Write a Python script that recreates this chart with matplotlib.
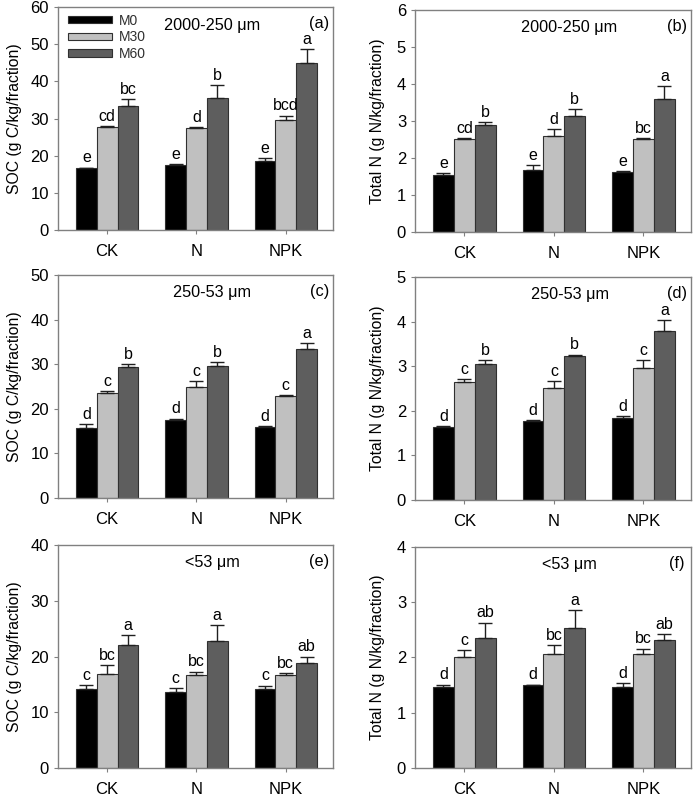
import numpy as np
import matplotlib.pyplot as plt
from matplotlib.patches import Patch

plt.rcParams['font.family'] = ['Liberation Sans', 'DejaVu Sans']

groups = ['CK', 'N', 'NPK']
series = ['M0', 'M30', 'M60']
colors = ['#000000', '#c0c0c0', '#5e5e5e']

# means per panel: rows = M0, M30, M60 ; cols = CK, N, NPK
soc_2000 = [[16.6, 17.6, 18.6], [27.8, 27.6, 29.7], [33.5, 35.6, 45.1]]
soc_2000_err = [[0.2, 0.2, 0.7], [0.2, 0.2, 1.1], [1.8, 3.4, 3.6]]
soc_2000_let = [['e', 'e', 'e'], ['cd', 'd', 'bcd'], ['bc', 'b', 'a']]

tn_2000 = [[1.53, 1.68, 1.62], [2.51, 2.60, 2.51], [2.90, 3.14, 3.59]]
tn_2000_err = [[0.06, 0.13, 0.03], [0.03, 0.19, 0.03], [0.06, 0.18, 0.36]]
tn_2000_let = [['e', 'e', 'e'], ['cd', 'd', 'bc'], ['b', 'b', 'a']]

soc_250 = [[15.7, 17.4, 15.9], [23.65, 24.9, 22.9], [29.4, 29.7, 33.5]]
soc_250_err = [[0.8, 0.4, 0.2], [0.3, 1.4, 0.1], [0.6, 0.7, 1.3]]
soc_250_let = [['d', 'd', 'd'], ['c', 'c', 'c'], ['b', 'b', 'a']]

tn_250 = [[1.63, 1.77, 1.84], [2.65, 2.52, 2.95], [3.04, 3.22, 3.79]]
tn_250_err = [[0.02, 0.02, 0.05], [0.07, 0.14, 0.18], [0.09, 0.04, 0.25]]
tn_250_let = [['d', 'd', 'd'], ['c', 'c', 'c'], ['b', 'b', 'a']]

soc_53 = [[14.1, 13.7, 14.1], [16.9, 16.6, 16.6], [22.1, 22.7, 18.9]]
soc_53_err = [[0.8, 0.6, 0.7], [1.5, 0.7, 0.4], [1.7, 2.9, 1.1]]
soc_53_let = [['c', 'c', 'c'], ['bc', 'bc', 'bc'], ['a', 'a', 'ab']]

tn_53 = [[1.47, 1.50, 1.47], [2.00, 2.06, 2.06], [2.35, 2.54, 2.32]]
tn_53_err = [[0.04, 0.01, 0.06], [0.13, 0.16, 0.10], [0.28, 0.32, 0.10]]
tn_53_let = [['d', 'd', 'd'], ['c', 'bc', 'bc'], ['ab', 'a', 'ab']]

panels = [
    (soc_2000, soc_2000_err, soc_2000_let, 60, 10, 'SOC (g C/kg/fraction)', '2000-250 \u03bcm', '(a)'),
    (tn_2000, tn_2000_err, tn_2000_let, 6, 1, 'Total N (g N/kg/fraction)', '2000-250 \u03bcm', '(b)'),
    (soc_250, soc_250_err, soc_250_let, 50, 10, 'SOC (g C/kg/fraction)', '250-53 \u03bcm', '(c)'),
    (tn_250, tn_250_err, tn_250_let, 5, 1, 'Total N (g N/kg/fraction)', '250-53 \u03bcm', '(d)'),
    (soc_53, soc_53_err, soc_53_let, 40, 10, 'SOC (g C/kg/fraction)', '<53 \u03bcm', '(e)'),
    (tn_53, tn_53_err, tn_53_let, 4, 1, 'Total N (g N/kg/fraction)', '<53 \u03bcm', '(f)'),
]

# axes boxes [left, bottom, width, height] in figure fraction
boxes = [
    [0.0837, 0.712, 0.397, 0.279],
    [0.599, 0.7096, 0.398, 0.278],
    [0.0837, 0.3767, 0.397, 0.279],
    [0.599, 0.3742, 0.398, 0.279],
    [0.0837, 0.0388, 0.397, 0.279],
    [0.599, 0.0388, 0.398, 0.2766],
]

fig = plt.figure(figsize=(6.93, 7.99), dpi=100)
x = np.arange(len(groups))
w = 0.233
spine_c = '#808080'

for i, (vals, errs, lets, ymax, step, ylab, title, tag) in enumerate(panels):
    ax = fig.add_axes(boxes[i])
    for k in range(3):
        pos = x + (k - 1) * w
        ax.bar(pos, vals[k], w, color=colors[k], edgecolor='#303030', linewidth=0.8, zorder=2)
        ax.errorbar(pos, vals[k], yerr=[np.zeros(3), errs[k]], fmt='none',
                    ecolor='#202020', elinewidth=1, capsize=5, capthick=1, zorder=3)
        for j in range(3):
            top = vals[k][j] + errs[k][j]
            ax.text(pos[j], top + ymax * 0.01, lets[k][j], ha='center', va='bottom', fontsize=11.5)
    ax.set_ylim(0, ymax)
    ax.set_yticks(np.arange(0, ymax + step / 2, step))
    ax.set_xlim(-0.55, 2.53)
    ax.set_xticks(x)
    ax.set_xticklabels(groups)
    ax.tick_params(direction='out', length=3, width=0.8, color=spine_c, labelsize=12)
    ax.tick_params(axis='x', pad=7)
    for s in ax.spines.values():
        s.set_color(spine_c)
        s.set_linewidth(1)
    ax.set_ylabel(ylab, fontsize=11.3)
    ax.yaxis.set_label_coords(-0.13 if i % 2 == 0 else -0.108, 0.5)
    ax.text(0.56, 0.92, title, transform=ax.transAxes, ha='center', va='center', fontsize=11.7)
    ax.text(0.95, 0.925, tag, transform=ax.transAxes, ha='center', va='center', fontsize=11.7)
    if i == 0:
        handles = [Patch(facecolor=colors[k], edgecolor='#303030', linewidth=0.8) for k in range(3)]
        ax.legend(handles, series, loc='upper left', bbox_to_anchor=(0.0, 1.015), frameon=False,
                  fontsize=10, handlelength=3.2, handleheight=0.45, labelspacing=0.2,
                  handletextpad=0.5, borderaxespad=0.3, labelcolor='#303030')

fig.savefig('out.png', dpi=100)
